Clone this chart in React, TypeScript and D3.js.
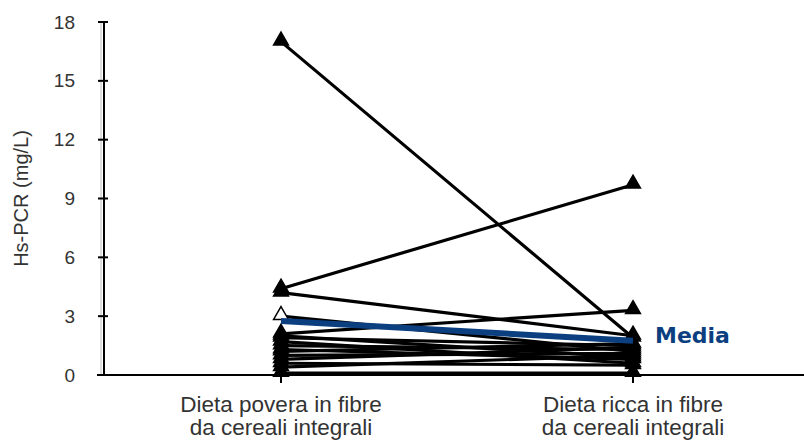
import React from 'react'
import * as d3 from 'd3'

// paired values per subject (mg/L)
const categories = ['Dieta povera in fibre\nda cereali integrali', 'Dieta ricca in fibre\nda cereali integrali']
const lowFibre = [17.0, 4.4, 4.2, 3.0, 2.1, 2.0, 1.9, 1.7, 1.5, 1.3, 1.2, 1.0, 0.8, 0.6, 0.4, 0.1]
const highFibre = [1.9, 9.7, 2.0, 1.2, 3.3, 0.9, 1.5, 0.6, 1.3, 0.8, 1.6, 1.1, 1.4, 0.5, 1.0, 0.1]
const openMarkers = [3]
const mean = [2.75, 1.75]
const yTicks = [0, 3, 6, 9, 12, 15, 18]

const width = 804
const height = 440
const margin = { top: 22, right: 0, bottom: 65, left: 104 }

const font = '"Liberation Sans", Arial, sans-serif'

export default function App() {
  const y = d3.scaleLinear().domain([0, 18]).range([height - margin.bottom, margin.top])
  const x = d3.scalePoint().domain(categories).range([281, 633])

  const x0 = x(categories[0]) as number
  const x1 = x(categories[1]) as number
  const tri = d3.symbol().type(d3.symbolTriangle).size(95)()

  const pairs = lowFibre.map((v, i) => [v, highFibre[i]])
  const line = d3.line<number>().x((_, i) => (i === 0 ? x0 : x1)).y(d => y(d))

  return (
    <svg width={width} height={height} style={{ position: 'absolute', left: 0, top: 0 }}>
      {/* y axis */}
      <line x1={101} x2={101} y1={y(18)} y2={y(0)} stroke="#bbb" strokeWidth={1} />
      <line x1={margin.left} x2={margin.left} y1={y(18)} y2={y(0)} stroke="#000" strokeWidth={2} />
      {yTicks.map(t => (
        <g key={t}>
          <line x1={98} x2={108} y1={y(t)} y2={y(t)} stroke="#000" strokeWidth={2} />
          <text x={75} y={y(t)} dy="0.35em" textAnchor="end" fontFamily={font} fontSize={19} fill="#333">{t}</text>
        </g>
      ))}
      <text transform={`translate(21,${(y(0) + y(18)) / 2}) rotate(-90)`} textAnchor="middle" dy="0.35em"
        fontFamily={font} fontSize={20} fill="#333">Hs-PCR (mg/L)</text>

      {/* x axis */}
      <line x1={97} x2={width} y1={y(0)} y2={y(0)} stroke="#000" strokeWidth={2} />
      {categories.map(c => (
        <g key={c}>
          <line x1={x(c)} x2={x(c)} y1={y(0)} y2={y(0) + 8} stroke="#000" strokeWidth={2} />
          {c.split('\n').map((s, i) => (
            <text key={i} x={x(c)} y={412 + i * 23} textAnchor="middle" fontFamily={font} fontSize={22.5} fill="#333">{s}</text>
          ))}
        </g>
      ))}

      {/* subject lines */}
      {pairs.map((p, i) => (
        <path key={i} d={line(p) as string} fill="none" stroke="#000" strokeWidth={3.2} />
      ))}
      {pairs.map((p, i) => (
        <g key={'m' + i}>
          <path d={tri as string} transform={`translate(${x0},${y(p[0]) - 1})`}
            fill={openMarkers.includes(i) ? '#fff' : '#000'} stroke="#000" strokeWidth={1.5} />
          <path d={tri as string} transform={`translate(${x1},${y(p[1]) - 1})`} fill="#000" stroke="#000" strokeWidth={1.5} />
        </g>
      ))}

      {/* mean */}
      <path d={line(mean) as string} fill="none" stroke="#0b3f7f" strokeWidth={6} />
      <text x={655} y={343} fontFamily='"DejaVu Sans", sans-serif' fontSize={22} fontWeight="bold" fill="#0b3f7f">Media</text>
    </svg>
  )
}
